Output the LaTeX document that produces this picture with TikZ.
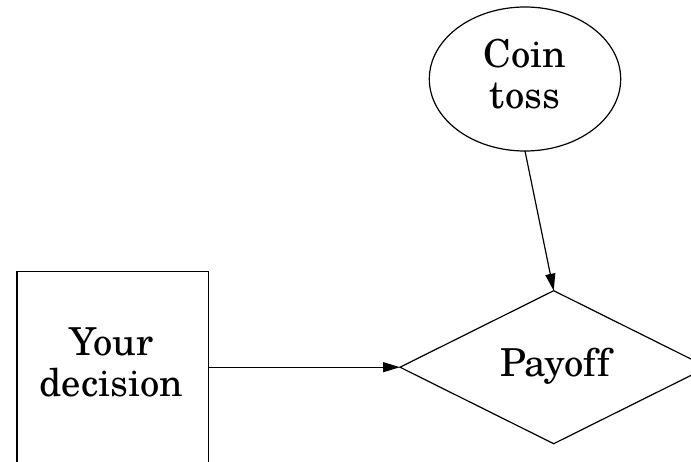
\documentclass[tikz,border=0pt]{standalone}
\usepackage{fontspec}
\setmainfont[Ligatures=NoCommon]{TeX Gyre Schola}
\usetikzlibrary{shapes.geometric,arrows.meta}
\begin{document}
\begin{tikzpicture}[x=1pt,y=-1pt,
  every node/.style={inner sep=0pt,outer sep=0pt},
  shapeline/.style={draw=black,line width=1.2pt},
  lbl/.style={font=\fontsize{38.5}{41}\selectfont,align=center,anchor=base},
  conn/.style={draw=black,line width=1.2pt,-{Triangle[length=17pt,width=10pt]}}]
\useasboundingbox (0,0) rectangle (691,461);
\clip (0,0) rectangle (691,461);
\node[shapeline,ellipse,minimum width=191.4pt,minimum height=144pt] (coin) at (525,79) {};
\node[shapeline,diamond,minimum width=307.4pt,minimum height=153pt,aspect=2] (pay) at (553.7,367.2) {};
\node[shapeline,rectangle,minimum width=191.7pt,minimum height=191pt] (dec) at (112.8,367.2) {};
\node[lbl] (coinlbl) at (525,108.3) {Coin\\toss};
\node[lbl] (paylbl) at (555,376) {Payoff};
\node[lbl] (declbl) at (111.5,396.7) {Your\\decision};
\draw[conn] (coin.south) -- (pay.north);
\draw[conn] (dec.east) -- (pay.west);
\end{tikzpicture}
\end{document}
